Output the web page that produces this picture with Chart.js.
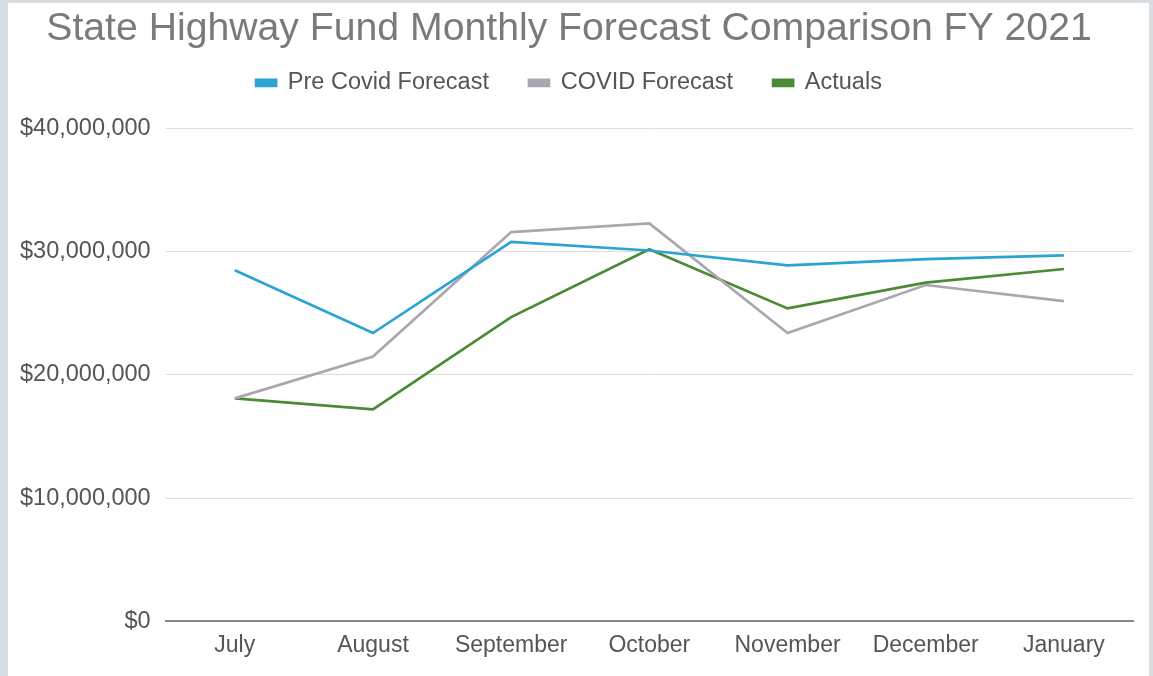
<!DOCTYPE html>
<html>
<head>
<meta charset="utf-8">
<script src="https://cdn.jsdelivr.net/npm/chart.js@4.4.0/dist/chart.umd.min.js"></script>
<style>
    html, body { margin: 0; padding: 0; background: #d6dee3; }
    #wrap { position: absolute; left: 8px; top: 3px; width: 1141px; height: 673px; background: #fff; }
</style>
</head>
<body>
<div id="wrap"><canvas id="fcChart"></canvas></div>
<script>
const months      = ['July', 'August', 'September', 'October', 'November', 'December', 'January'];
const preCovid    = [28500000, 23400000, 30800000, 30100000, 28900000, 29400000, 29700000];
const covidFcst   = [18100000, 21500000, 31600000, 32300000, 23400000, 27300000, 26000000];
const actuals     = [18100000, 17200000, 24700000, 30200000, 25400000, 27500000, 28600000];
const yTicks      = [0, 10000000, 20000000, 30000000, 40000000];

function money(v) { return '$' + v.toLocaleString('en-US'); }

function series(label, data, color) {
    return {
        label: label, data: data,
        borderColor: color, backgroundColor: color,
        borderWidth: 2.7, pointRadius: 0, tension: 0, fill: false,
    };
}

// a bit more room under the legend
const legendGap = {
    id: 'legendGap',
    beforeInit(chart) {
        const fit = chart.legend.fit;
        chart.legend.fit = function () { fit.bind(chart.legend)(); this.height += 24; };
    }
};

new Chart(document.getElementById('fcChart').getContext('2d'), {
    type: 'line',
    data: {
        labels: months,
        datasets: [
            series('Pre Covid Forecast', preCovid, '#2ba4d3'),
            series('COVID Forecast', covidFcst, '#aba7ae'),
            series('Actuals', actuals, '#4b8a36'),
        ]
    },
    plugins: [legendGap],
    options: {
        responsive: true, maintainAspectRatio: false, animation: false,
        layout: { padding: { left: -3, right: 16, top: 0, bottom: 15 } },
        plugins: {
            title: {
                display: true,
                text: 'State Highway Fund Monthly Forecast Comparison FY 2021',
                color: '#7a7a7a',
                font: { family: 'Liberation Sans', size: 39.2, weight: 'normal' },
                padding: { top: 3, bottom: -22 },
            },
            legend: {
                labels: {
                    color: '#555', boxWidth: 20, boxHeight: 6, padding: 40,
                    font: { family: 'Liberation Sans', size: 23.5 },
                },
            },
            tooltip: { enabled: false },
        },
        scales: {
            x: {
                offset: true,
                grid: { display: false },
                border: { color: '#888', width: 2 },
                ticks: { color: '#555', font: { family: 'Liberation Sans', size: 23 }, padding: 2, maxRotation: 0 },
            },
            y: {
                min: 0, max: 40000000,
                afterBuildTicks: axis => { axis.ticks = yTicks.map(v => ({ value: v })); },
                grid: { color: '#dddddd', drawTicks: false },
                border: { display: false },
                ticks: { color: '#555', font: { family: 'Liberation Sans', size: 23.5 }, padding: 15, callback: money },
            },
        },
    },
});
</script>
</body>
</html>
